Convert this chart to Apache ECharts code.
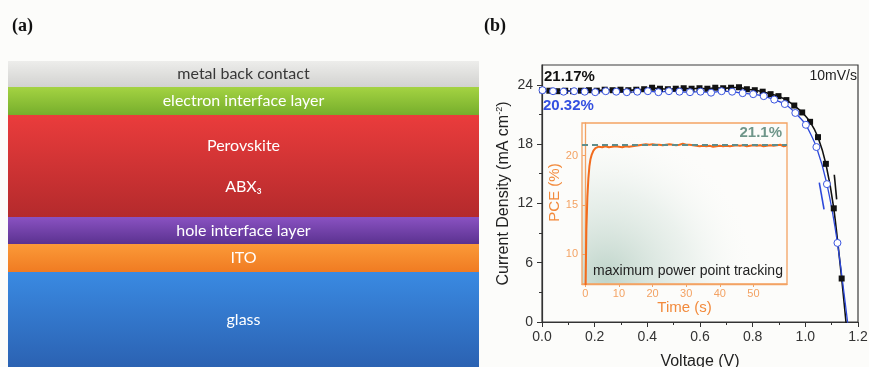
<!DOCTYPE html>
<html><head><meta charset="utf-8">
<script src="https://cdn.jsdelivr.net/npm/echarts@6/dist/echarts.min.js"></script>
<style>html,body{margin:0;padding:0;background:#fcfcfa}#c{width:869px;height:367px}</style>
</head><body><div id="c"></div><script>
// ---- (a) device stack, listed bottom to top ----
const layerNames = ['glass', 'ITO', 'hole interface layer', 'Perovskite\nABX₃', 'electron interface layer', 'metal back contact'];
const layerThickness = [95, 28, 27, 102, 28, 26];
const layerTopColor = ['#3a8ae2', '#fb9a38', '#8a52c2', '#ea3c3c', '#a4d342', '#ededeb'];
const layerBottomColor = ['#2b62b2', '#f07b22', '#5b3290', '#b42a2c', '#76ae2c', '#d2d2d0'];
const layerTextColor = ['#ffffff', '#ffffff', '#ffffff', '#ffffff', '#ffffff', '#383838'];

// ---- (b) J-V curves ----
const fwdVoltage = [0.000, 0.028, 0.058, 0.088, 0.118, 0.148, 0.178, 0.208, 0.238, 0.268,
  0.298, 0.328, 0.358, 0.388, 0.418, 0.448, 0.478, 0.508, 0.538, 0.568,
  0.598, 0.628, 0.658, 0.688, 0.718, 0.748, 0.778, 0.808, 0.838, 0.868,
  0.898, 0.928, 0.958, 0.988, 1.018, 1.048, 1.078, 1.108, 1.138];
const fwdCurrent = [23.45, 23.4, 23.35, 23.4, 23.35, 23.4, 23.45, 23.4, 23.5, 23.45,
  23.5, 23.45, 23.5, 23.55, 23.7, 23.6, 23.55, 23.6, 23.65, 23.6,
  23.65, 23.6, 23.7, 23.65, 23.7, 23.75, 23.55, 23.45, 23.3, 23.05,
  22.85, 22.45, 21.9, 21.2, 20.25, 18.7, 16.0, 11.5, 4.4];
const fwdTail = [1.158, -1];

const revVoltage = [0.002, 0.042, 0.082, 0.122, 0.162, 0.202, 0.242, 0.282, 0.322, 0.362,
  0.402, 0.442, 0.482, 0.522, 0.562, 0.602, 0.642, 0.682, 0.722, 0.762,
  0.802, 0.842, 0.882, 0.922, 0.962, 1.002, 1.042, 1.082, 1.122];
const revCurrent = [23.45, 23.35, 23.3, 23.35, 23.3, 23.25, 23.35, 23.3, 23.25, 23.3,
  23.35, 23.25, 23.35, 23.3, 23.25, 23.3, 23.2, 23.35, 23.3, 23.15,
  23.05, 22.85, 22.5, 22.05, 21.15, 19.95, 17.7, 13.95, 8.0];
const revTail = [1.165, -1];

const voltageTicks = [0, 0.2, 0.4, 0.6, 0.8, 1.0, 1.2];
const currentTicks = [0, 6, 12, 18, 24];
const currentMinorTicks = [3, 9, 15, 21];

// ---- inset: maximum power point tracking ----
const pceTime = [0, 0.3, 0.6, 0.9, 1.2, 1.5, 1.9, 2.4, 3.0, 3.5, 4,
  5, 6, 7, 8, 9, 10, 11, 12, 13, 14,
  15, 16, 17, 18, 19, 20, 21, 22, 23, 24,
  25, 26, 27, 28, 29, 30, 31, 32, 33, 34,
  35, 36, 37, 38, 39, 40, 41, 42, 43, 44,
  45, 46, 47, 48, 49, 50, 51, 52, 53, 54,
  55, 56, 57, 58, 59, 59.8];
const pceValue = [5.0, 12.5, 15.8, 17.7, 18.9, 19.6, 20.1, 20.5, 20.75, 20.85, 20.9,
  20.85, 20.95, 20.85, 20.9, 20.95, 20.9, 20.85, 20.95, 20.9, 20.95,
  21.0, 21.05, 21.1, 21.15, 21.1, 21.15, 21.1, 21.1, 21.05, 21.1,
  21.15, 21.1, 21.05, 21.1, 21.2, 21.1, 21.1, 21.05, 21.0, 20.95,
  21.0, 20.95, 21.0, 20.9, 20.95, 21.0, 20.95, 21.0, 20.95, 21.0,
  21.05, 21.0, 21.05, 20.95, 21.0, 21.05, 21.0, 21.05, 20.95, 21.0,
  21.05, 21.0, 21.05, 21.1, 20.95, 21.0];
const pceStable = 21.1;
const timeTicks = [0, 10, 20, 30, 40, 50];
const pceTicks = [10, 15, 20];

const zip = (a, b) => a.map((v, i) => [v, b[i]]);
const ORANGE = '#f3a263';
const ORANGE_TXT = '#f28a3c';
const AX = '#333333';
const SANS = 'Liberation Sans, Arial, sans-serif';

const chart = echarts.init(document.getElementById('c'), null, { renderer: 'canvas' });

const stackSeries = layerNames.map((name, i) => ({
  type: 'bar', name, stack: 'device', xAxisIndex: 2, yAxisIndex: 3,
  data: [layerThickness[i]], barWidth: '100%', silent: true,
  itemStyle: {
    color: new echarts.graphic.LinearGradient(0, 0, 0, 1, [
      { offset: 0, color: layerTopColor[i] }, { offset: 1, color: layerBottomColor[i] }])
  },
  label: {
    show: true, position: 'inside', formatter: name,
    color: layerTextColor[i], fontFamily: 'Lato, Open Sans, sans-serif',
    fontSize: 16, lineHeight: 41
  }
}));

chart.setOption({
  animation: false,
  backgroundColor: '#fcfcfa',
  grid: [
    { left: 542, top: 65, right: 11, bottom: 45, outerBoundsMode: 'none', show: true, borderColor: '#3a3a3a', borderWidth: 1.2, backgroundColor: 'transparent' },
    { left: 582, top: 123, right: 82, bottom: 83, outerBoundsMode: 'none', show: true, borderColor: ORANGE, borderWidth: 1.3,
      backgroundColor: new echarts.graphic.RadialGradient(0.12, 0.95, 0.95, [
        { offset: 0, color: 'rgba(150,186,170,0.6)' },
        { offset: 0.55, color: 'rgba(205,222,214,0.35)' },
        { offset: 1, color: 'rgba(255,255,255,0)' }]) },
    { left: 8, top: 61, width: 471, bottom: 0, outerBoundsMode: 'none' }
  ],
  xAxis: [
    { type: 'value', gridIndex: 0, min: 0, max: 1.2, interval: 0.2,
      axisLine: { show: true, lineStyle: { color: AX, width: 1.2 } },
      axisTick: { show: true, length: 5, lineStyle: { color: AX } },
      minorTick: { show: true, splitNumber: 2, length: 3, lineStyle: { color: AX } },
      splitLine: { show: false },
      axisLabel: { formatter: v => v.toFixed(1), color: AX, fontSize: 14, fontFamily: SANS, margin: 8 },
      name: 'Voltage (V)', nameLocation: 'middle', nameGap: 32,
      nameTextStyle: { color: '#222', fontSize: 16, fontFamily: SANS } },
    { type: 'value', gridIndex: 1, min: -1, max: 60,
      axisLine: { show: true, lineStyle: { color: ORANGE, width: 1.3 } },
      axisTick: { show: true, length: 3, customValues: timeTicks, lineStyle: { color: ORANGE } },
      splitLine: { show: false },
      axisLabel: { customValues: timeTicks, color: ORANGE, fontSize: 11, fontFamily: SANS, margin: 4 },
      name: 'Time (s)', nameLocation: 'middle', nameGap: 15,
      nameTextStyle: { color: ORANGE_TXT, fontSize: 15, fontFamily: SANS } },
    { type: 'category', gridIndex: 2, data: ['stack'], show: false }
  ],
  yAxis: [
    { type: 'value', gridIndex: 0, min: 0, max: 26,
      axisLine: { show: true, lineStyle: { color: AX, width: 1.2 } },
      axisTick: { show: true, length: 5, customValues: currentTicks, lineStyle: { color: AX } },
      splitLine: { show: false },
      axisLabel: { customValues: currentTicks, color: AX, fontSize: 14, fontFamily: SANS, margin: 9 },
      name: '{n|Current Density (mA cm}{s|-2}{n|)}', nameLocation: 'middle', nameGap: 29,
      nameTextStyle: { rich: {
        n: { fontSize: 16, color: '#222', fontFamily: SANS, lineHeight: 18 },
        s: { fontSize: 9, color: '#222', fontFamily: SANS, lineHeight: 18, verticalAlign: 'top' } } } },
    { type: 'value', gridIndex: 0, min: 0, max: 26, position: 'left',
      axisLine: { show: false },
      axisTick: { show: true, length: 3, customValues: currentMinorTicks, lineStyle: { color: AX } },
      axisLabel: { show: false }, splitLine: { show: false } },
    { type: 'value', gridIndex: 1, min: 7, max: 23.3,
      axisLine: { show: true, lineStyle: { color: ORANGE, width: 1.3 } },
      axisTick: { show: true, length: 3, customValues: pceTicks, lineStyle: { color: ORANGE } },
      splitLine: { show: false },
      axisLabel: { customValues: pceTicks, color: ORANGE, fontSize: 11, fontFamily: SANS, margin: 4 },
      name: 'PCE (%)', nameLocation: 'middle', nameGap: 18,
      nameTextStyle: { color: ORANGE_TXT, fontSize: 15, fontFamily: SANS, padding: [0, 0, 0, 22] } },
    { type: 'value', gridIndex: 2, min: 0, max: 306, show: false }
  ],
  series: [
    ...stackSeries,
    { type: 'line', name: 'forward', xAxisIndex: 0, yAxisIndex: 0, smooth: 0.2,
      data: [...zip(fwdVoltage, fwdCurrent), { value: fwdTail, symbol: 'none' }],
      symbol: 'rect', symbolSize: 6, showAllSymbol: true,
      lineStyle: { color: '#111', width: 1.6 }, itemStyle: { color: '#111' },
      markLine: { silent: true, symbol: ['none', 'arrow'], symbolSize: [0, 8],
        lineStyle: { color: '#111', width: 1.6, type: 'solid' }, label: { show: false },
        data: [[{ coord: [1.119, 12.4] }, { coord: [1.110, 14.9] }]] } },
    { type: 'line', name: 'reverse', xAxisIndex: 0, yAxisIndex: 0, smooth: 0.2,
      data: [...zip(revVoltage, revCurrent), { value: revTail, symbol: 'none' }],
      symbol: 'circle', symbolSize: 7, showAllSymbol: true,
      lineStyle: { color: '#2c48da', width: 1.3 },
      itemStyle: { color: '#ffffff', borderColor: '#3a55e0', borderWidth: 1 },
      markLine: { silent: true, symbol: ['none', 'arrow'], symbolSize: [0, 8],
        lineStyle: { color: '#2c48da', width: 1.6, type: 'solid' }, label: { show: false },
        data: [[{ coord: [1.053, 14.1] }, { coord: [1.071, 11.4] }]] } },
    { type: 'line', name: 'PCE', xAxisIndex: 1, yAxisIndex: 2,
      data: zip(pceTime, pceValue), showSymbol: false, symbol: 'none',
      lineStyle: { color: '#f26b1d', width: 2 },
      markLine: { silent: true, symbol: 'none',
        lineStyle: { color: '#5f8d8b', width: 2, type: [6, 4] },
        label: { show: true, position: 'insideEndTop', formatter: pceStable.toFixed(1) + '%',
          color: '#6f968a', fontSize: 15, fontWeight: 'bold', fontFamily: SANS, distance: [5, 4] },
        data: [{ yAxis: pceStable }] } }
  ],
  graphic: [
    { type: 'text', left: 12, top: 17, style: { text: '(a)', font: 'bold 18px "Liberation Serif", serif', fill: '#111' } },
    { type: 'text', left: 484, top: 17, style: { text: '(b)', font: 'bold 18px "Liberation Serif", serif', fill: '#111' } },
    { type: 'text', left: 544, top: 69, style: { text: '21.17%', font: 'bold 15px "Liberation Sans", Arial', fill: '#111' } },
    { type: 'text', left: 543, top: 98, style: { text: '20.32%', font: 'bold 15px "Liberation Sans", Arial', fill: '#3450e0' } },
    { type: 'text', right: 12, top: 69, style: { text: '10mV/s', font: '14px "Liberation Sans", Arial', fill: '#222' } },
    { type: 'text', x: 688, y: 271, style: { text: 'maximum power point tracking', font: '14px "Liberation Sans", Arial', fill: '#222', align: 'center', verticalAlign: 'middle' } }
  ]
});
</script></body></html>
